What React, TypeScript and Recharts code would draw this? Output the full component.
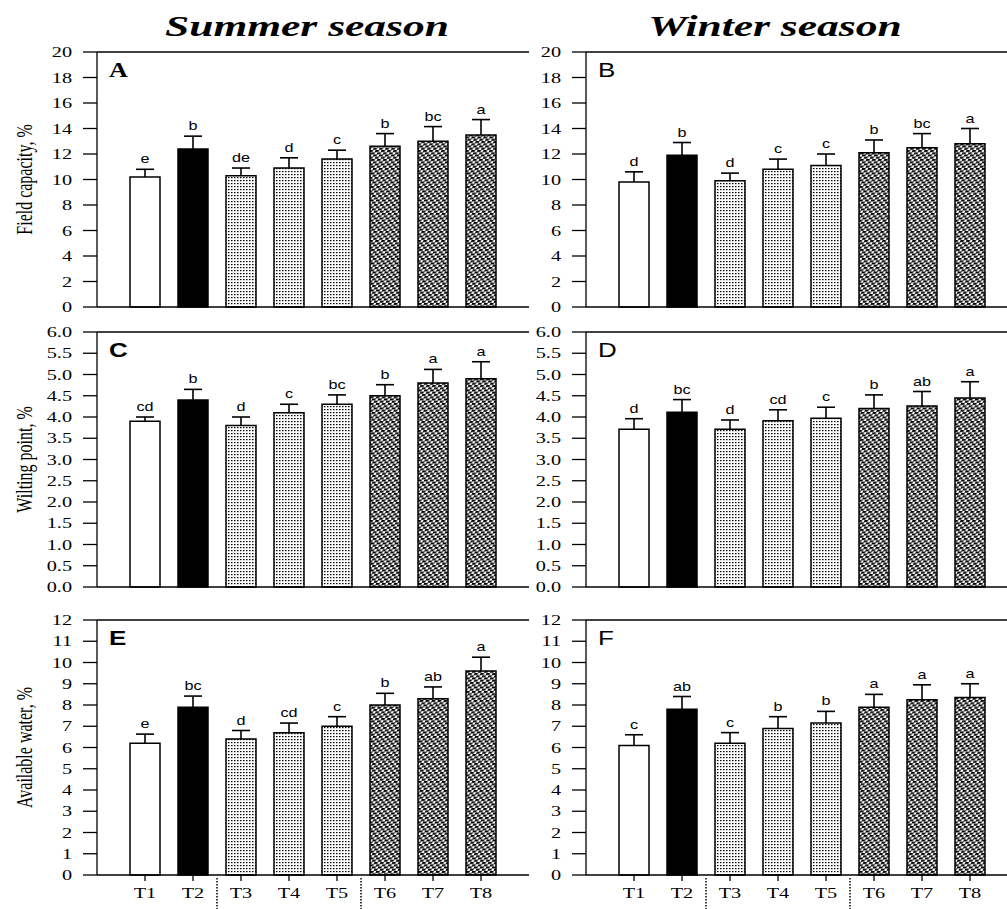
import { BarChart, Bar, XAxis, YAxis, Cell, LabelList, ReferenceLine } from "recharts"

const treatments = ["T1", "T2", "T3", "T4", "T5", "T6", "T7", "T8"]

// field capacity, %
const fcSummer = [10.2, 12.4, 10.3, 10.9, 11.6, 12.6, 13.0, 13.5]
const fcSummerErr = [0.6, 1.0, 0.6, 0.8, 0.7, 1.0, 1.15, 1.2]
const fcSummerSig = ["e", "b", "de", "d", "c", "b", "bc", "a"]
const fcWinter = [9.8, 11.9, 9.9, 10.8, 11.1, 12.1, 12.5, 12.8]
const fcWinterErr = [0.8, 1.0, 0.6, 0.8, 0.9, 1.0, 1.1, 1.2]
const fcWinterSig = ["d", "b", "d", "c", "c", "b", "bc", "a"]

// wilting point, %
const wpSummer = [3.9, 4.4, 3.8, 4.1, 4.3, 4.5, 4.8, 4.9]
const wpSummerErr = [0.1, 0.25, 0.2, 0.2, 0.22, 0.26, 0.32, 0.4]
const wpSummerSig = ["cd", "b", "d", "c", "bc", "b", "a", "a"]
const wpWinter = [3.71, 4.11, 3.71, 3.91, 3.97, 4.2, 4.26, 4.45]
const wpWinterErr = [0.25, 0.3, 0.22, 0.26, 0.26, 0.32, 0.34, 0.38]
const wpWinterSig = ["d", "bc", "d", "cd", "c", "b", "ab", "a"]

// available water, %
const awSummer = [6.2, 7.9, 6.4, 6.7, 7.0, 8.0, 8.3, 9.6]
const awSummerErr = [0.43, 0.52, 0.4, 0.45, 0.45, 0.55, 0.55, 0.65]
const awSummerSig = ["e", "bc", "d", "cd", "c", "b", "ab", "a"]
const awWinter = [6.1, 7.8, 6.2, 6.9, 7.15, 7.9, 8.25, 8.35]
const awWinterErr = [0.5, 0.6, 0.5, 0.55, 0.55, 0.6, 0.7, 0.65]
const awWinterSig = ["c", "ab", "c", "b", "b", "a", "a", "a"]

const fcTicks = [0, 2, 4, 6, 8, 10, 12, 14, 16, 18, 20]
const wpTicks = [0, 0.5, 1, 1.5, 2, 2.5, 3, 3.5, 4, 4.5, 5, 5.5, 6]
const awTicks = [0, 1, 2, 3, 4, 5, 6, 7, 8, 9, 10, 11, 12]

const barFills = [
  "#fff",
  "#000",
  "url(#dotFine)",
  "url(#dotFine)",
  "url(#dotFine)",
  "url(#dotCoarse)",
  "url(#dotCoarse)",
  "url(#dotCoarse)",
]

const SERIF = '"Liberation Serif", "Times New Roman", serif'
const SANS = '"Liberation Sans", Arial, sans-serif'
const SX = 1.35 // the figure is stretched sideways

function build(vals: number[], errs: number[], sig: string[]) {
  return treatments.map((name, i) => ({ name, val: vals[i], err: errs[i], sig: sig[i] }))
}

function SText({ x, y, sx = SX, children, ...rest }: any) {
  return (
    <text transform={`translate(${x},${y}) scale(${sx},1)`} {...rest}>
      {children}
    </text>
  )
}

function YTick({ x, y, payload, decimals }: any) {
  return (
    <SText x={x} y={y} textAnchor="end" dominantBaseline="central" fontFamily={SERIF} fontSize={15} fill="#000">
      {Number(payload.value).toFixed(decimals)}
    </SText>
  )
}

function XTick({ x, y, payload }: any) {
  return (
    <SText x={x} y={y + 15} textAnchor="middle" fontFamily={SERIF} fontSize={15} fill="#000">
      {payload.value}
    </SText>
  )
}

function ErrorShape({ x, y, width, height }: any) {
  const cx = x + width / 2
  return (
    <g stroke="#000" strokeWidth={1.6}>
      <line x1={cx} y1={y + height} x2={cx} y2={y} />
      <line x1={cx - 9} y1={y} x2={cx + 9} y2={y} />
    </g>
  )
}

function SigLabel({ x, y, width, value }: any) {
  return (
    <SText x={x + width / 2} y={y - 6} textAnchor="middle" fontFamily={SANS} fontSize={12} fill="#000">
      {value}
    </SText>
  )
}

function Panel({ left, top, data, max, ticks, decimals, letter, letterBold, letterSerif, yLabel, showX }: any) {
  const plotH = 255
  return (
    <div style={{ position: "absolute", left, top: top - 10 }}>
      <BarChart
        width={540}
        height={plotH + 10 + 34}
        data={data}
        barSize={30}
        margin={{ top: 10, right: 11, bottom: 0, left: 0 }}
      >
        <XAxis
          dataKey="name"
          height={34}
          padding={{ left: 24, right: 24 }}
          interval={0}
          tickSize={6}
          tickMargin={2}
          stroke="#000"
          axisLine={{ stroke: "#000", strokeWidth: 1.3 }}
          tickLine={{ stroke: "#000", strokeWidth: 1.3 }}
          tick={showX ? <XTick /> : false}
        />
        <YAxis
          width={97}
          domain={[0, max]}
          ticks={ticks}
          interval={0}
          tickSize={14}
          tickMargin={11}
          axisLine={{ stroke: "#000", strokeWidth: 1.3 }}
          tickLine={{ stroke: "#000", strokeWidth: 1.3 }}
          tick={<YTick decimals={decimals} />}
          label={
            yLabel
              ? {
                  content: (p: any) => {
                    const vb = p.viewBox || { y: 10, height: plotH }
                    const cy = vb.y + vb.height / 2
                    return (
                      <text
                        transform={`translate(25,${cy}) rotate(-90) scale(1,1.4)`}
                        textAnchor="middle"
                        dominantBaseline="central"
                        fontFamily={SERIF}
                        fontSize={16}
                        fill="#000"
                      >
                        {yLabel}
                      </text>
                    )
                  },
                }
              : undefined
          }
        />
        <YAxis
          yAxisId="frame"
          orientation="right"
          width={0}
          domain={[0, max]}
          tick={false}
          tickLine={false}
          axisLine={{ stroke: "#000", strokeWidth: 1.3 }}
        />
        <ReferenceLine
          y={max}
          stroke="#000"
          strokeWidth={1.3}
          label={{
            content: (p: any) => {
              const vb = p.viewBox || { x: 97, y: 10 }
              return (
                <SText
                  x={vb.x + 12}
                  y={vb.y + 25}
                  sx={1.3}
                  fontFamily={letterSerif ? SERIF : SANS}
                  fontWeight={letterBold ? "bold" : "normal"}
                  fontSize={20}
                  fill="#000"
                >
                  {letter}
                </SText>
              )
            },
          }}
        />
        <Bar dataKey="val" stackId="s" stroke="#000" strokeWidth={1.5} isAnimationActive={false}>
          {data.map((_: any, i: number) => (
            <Cell key={i} fill={barFills[i]} />
          ))}
        </Bar>
        <Bar dataKey="err" stackId="s" fill="none" shape={ErrorShape} isAnimationActive={false}>
          <LabelList dataKey="sig" content={SigLabel} />
        </Bar>
        {showX && (
          <ReferenceLine
            segment={[
              { x: "T2", y: -max * 0.012 },
              { x: "T2", y: -max * 0.2 },
            ]}
            position="end"
            ifOverflow="visible"
            stroke="#000"
            strokeWidth={1.5}
            strokeDasharray="1.5 1.5"
          />
        )}
        {showX && (
          <ReferenceLine
            segment={[
              { x: "T5", y: -max * 0.012 },
              { x: "T5", y: -max * 0.2 },
            ]}
            position="end"
            ifOverflow="visible"
            stroke="#000"
            strokeWidth={1.5}
            strokeDasharray="1.5 1.5"
          />
        )}
      </BarChart>
    </div>
  )
}

export default function App() {
  return (
    <div
      style={{
        position: "absolute",
        left: 0,
        top: 0,
        width: 1007,
        height: 909,
        overflow: "hidden",
        background: "#fff",
      }}
    >
      <svg width={1007} height={50} style={{ position: "absolute", left: 0, top: 0 }}>
        <defs>
          <pattern id="dotFine" width="3" height="3" patternUnits="userSpaceOnUse">
            <rect width="3" height="3" fill="#fff" />
            <rect width="1.5" height="1.2" fill="#000" />
          </pattern>
          <pattern id="dotCoarse" width="6" height="4.5" patternUnits="userSpaceOnUse" patternTransform="skewX(-25)">
            <rect width="6" height="4.5" fill="#fff" />
            <rect x="0" y="0" width="3.6" height="2" fill="#000" />
            <rect x="3" y="2.25" width="3" height="2" fill="#000" />
            <rect x="0" y="2.25" width="0.6" height="2" fill="#000" />
          </pattern>
        </defs>
        <SText x={307} y={36} sx={1.5} textAnchor="middle" fontFamily={SERIF} fontStyle="italic" fontWeight="bold" fontSize={29} fill="#000">
          Summer season
        </SText>
        <SText x={775} y={36} sx={1.5} textAnchor="middle" fontFamily={SERIF} fontStyle="italic" fontWeight="bold" fontSize={29} fill="#000">
          Winter season
        </SText>
      </svg>

      <Panel left={0} top={52} data={build(fcSummer, fcSummerErr, fcSummerSig)} max={20} ticks={fcTicks} decimals={0}
        letter="A" letterBold letterSerif yLabel="Field capacity, %" />
      <Panel left={489} top={52} data={build(fcWinter, fcWinterErr, fcWinterSig)} max={20} ticks={fcTicks} decimals={0}
        letter="B" />
      <Panel left={0} top={332} data={build(wpSummer, wpSummerErr, wpSummerSig)} max={6} ticks={wpTicks} decimals={1}
        letter="C" letterBold yLabel="Wilting point, %" />
      <Panel left={489} top={332} data={build(wpWinter, wpWinterErr, wpWinterSig)} max={6} ticks={wpTicks} decimals={1}
        letter="D" />
      <Panel left={0} top={620} data={build(awSummer, awSummerErr, awSummerSig)} max={12} ticks={awTicks} decimals={0}
        letter="E" letterBold yLabel="Available water, %" showX />
      <Panel left={489} top={620} data={build(awWinter, awWinterErr, awWinterSig)} max={12} ticks={awTicks} decimals={0}
        letter="F" showX />
    </div>
  )
}
